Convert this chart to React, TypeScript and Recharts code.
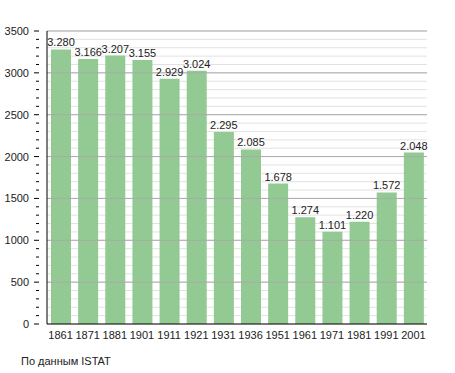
import React from "react";
import {
  BarChart,
  Bar,
  XAxis,
  YAxis,
  CartesianGrid,
  ReferenceLine,
  LabelList,
} from "recharts";

const years = [
  "1861", "1871", "1881", "1901", "1911", "1921", "1931",
  "1936", "1951", "1961", "1971", "1981", "1991", "2001",
];
const population = [
  3280, 3166, 3207, 3155, 2929, 3024, 2295,
  2085, 1678, 1274, 1101, 1220, 1572, 2048,
];
const minorTicks = Array.from({ length: 36 }, (_, i) => i * 100);
const majorTicks = [500, 1000, 1500, 2000, 2500, 3000, 3500];

const data = years.map((year, i) => ({ year, value: population[i] }));

const FONT = "'Liberation Sans', Arial, sans-serif";

const fmt = (v: number) => v.toString().replace(/\B(?=(\d{3})+(?!\d))/g, ".");

function YTick(props: any) {
  const { x, y, payload } = props;
  const major = payload.value % 500 === 0;
  return (
    <g>
      <line x1={x - (major ? 5 : 3)} x2={x} y1={y} y2={y} stroke="#000" strokeWidth={1} />
      {major && (
        <text x={x - 10} y={y} dy={4} textAnchor="end" fontSize={11} fill="#222" fontFamily={FONT}>
          {payload.value}
        </text>
      )}
    </g>
  );
}

function XTick(props: any) {
  const { x, y, payload } = props;
  return (
    <text x={x} y={y} dy={9} textAnchor="middle" fontSize={11} fill="#222" fontFamily={FONT}>
      {payload.value}
    </text>
  );
}

export default function App(): React.ReactElement {
  return (
    <div style={{ position: "absolute", left: 0, top: 0, width: 455, height: 373, background: "#fff" }}>
      <BarChart
        width={455}
        height={345}
        data={data}
        margin={{ top: 31, right: 28, left: 0, bottom: 0 }}
        barCategoryGap={0}
      >
        <CartesianGrid vertical={false} stroke="#e2e2e2" />
        {majorTicks.map((t) => (
          <ReferenceLine key={t} y={t} stroke="#aaaaaa" />
        ))}
        <XAxis
          dataKey="year"
          tickLine={false}
          axisLine={{ stroke: "#000" }}
          interval={0}
          height={21}
          tick={<XTick />}
          tickMargin={0}
        />
        <YAxis
          domain={[0, 3500]}
          ticks={minorTicks}
          interval={0}
          width={47}
          tickLine={false}
          axisLine={{ stroke: "#000" }}
          tick={<YTick />}
        />
        <Bar dataKey="value" fill="#93c993" barSize={20} isAnimationActive={false}>
          <LabelList
            dataKey="value"
            position="top"
            offset={3}
            formatter={(v: any) => fmt(Number(v))}
            style={{ fontSize: 11, fill: "#222", fontFamily: FONT }}
          />
        </Bar>
      </BarChart>
      <div
        style={{
          position: "absolute",
          left: 21,
          top: 355,
          fontSize: 11,
          fontFamily: FONT,
          color: "#222",
        }}
      >
        По данным ISTAT
      </div>
    </div>
  );
}
